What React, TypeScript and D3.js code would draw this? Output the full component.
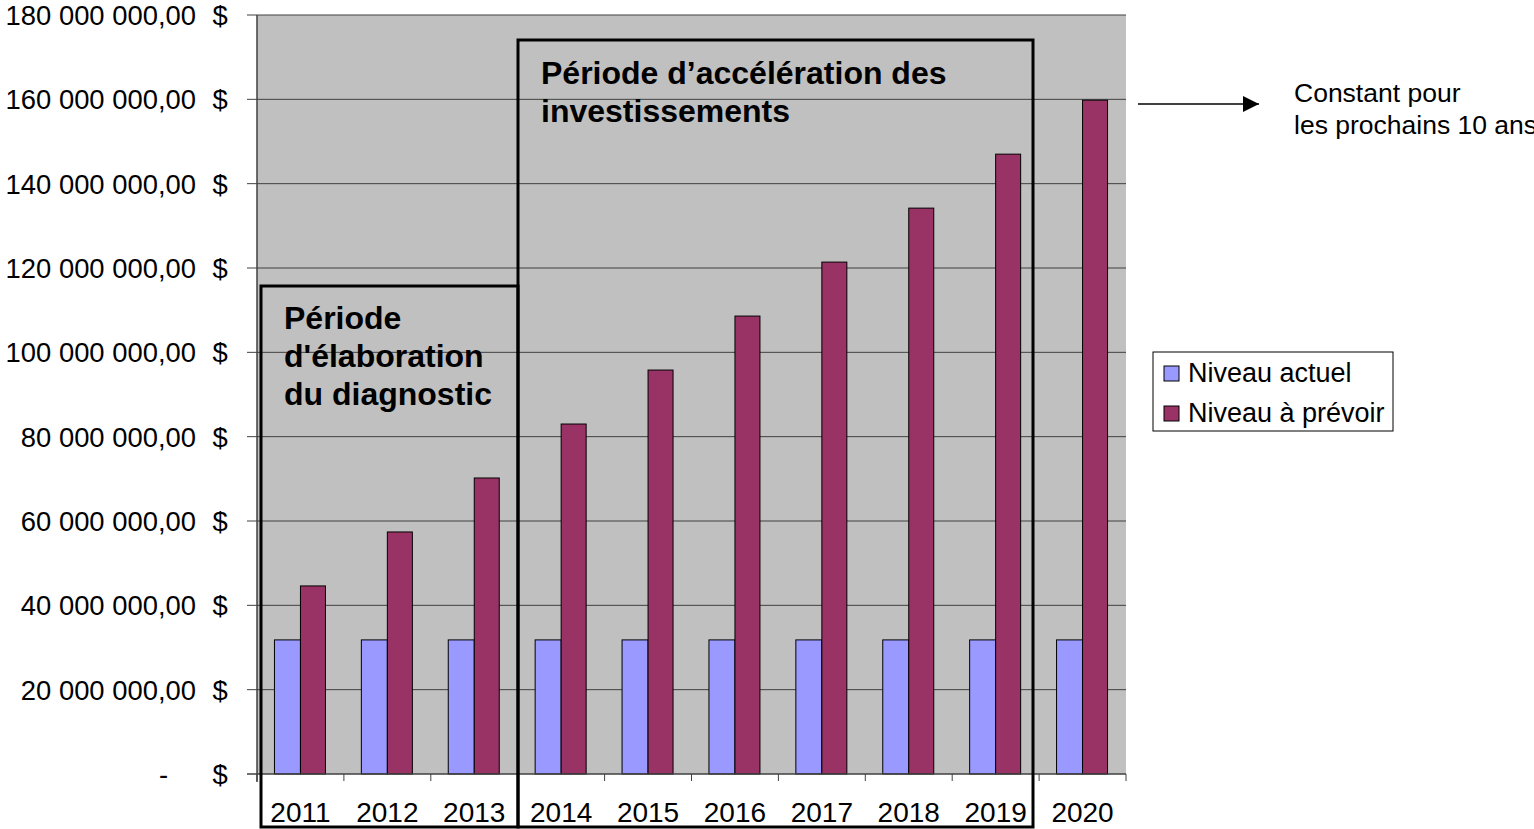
import React, { useEffect, useRef } from 'react';
import * as d3 from 'd3';

/* ─── Data ─── */
const YEARS = ['2011', '2012', '2013', '2014', '2015', '2016', '2017', '2018', '2019', '2020'];
const NIVEAU_ACTUEL = [31.8, 31.8, 31.8, 31.8, 31.8, 31.8, 31.8, 31.8, 31.8, 31.8].map(v => v * 1e6);
const NIVEAU_PREVOIR = [44.6, 57.4, 70.2, 83.0, 95.8, 108.6, 121.4, 134.2, 147.0, 159.8].map(v => v * 1e6);
const Y_TICKS = [0, 20e6, 40e6, 60e6, 80e6, 100e6, 120e6, 140e6, 160e6, 180e6];
const SERIES = ['Niveau actuel', 'Niveau à prévoir'];

const COLORS = {
    actuel: '#9999ff',
    prevoir: '#993366',
    plotBg: '#c0c0c0',
    grid: '#404040',
};
const FONT = "'Liberation Sans', Arial, sans-serif";

const W = 1534;
const H = 829;

function fmtTick(v: number) {
    if (v === 0) return '-';
    const s = d3.format(',.2f')(v);
    return s.replace(/,/g, ' ').replace('.', ',');
}

export default function App() {
    const svgRef = useRef<SVGSVGElement>(null);

    useEffect(() => {
        if (!svgRef.current) return;
        const svg = d3.select(svgRef.current);
        svg.selectAll('*').remove();

        const m = { left: 257, right: 1126, top: 15, bottom: 774 };
        const x = d3.scaleBand().domain(YEARS).range([m.left, m.right]).paddingInner(0).paddingOuter(0);
        const y = d3.scaleLinear().domain([0, 180e6]).range([m.bottom, m.top]);
        const bw = 26;

        // plot background
        svg.append('rect').attr('x', m.left).attr('y', m.top)
            .attr('width', m.right - m.left).attr('height', m.bottom - m.top).attr('fill', COLORS.plotBg);

        // grid + left ticks
        svg.append('g').selectAll('line').data(Y_TICKS.filter(d => d > 0)).join('line')
            .attr('x1', m.left - 10).attr('x2', m.right)
            .attr('y1', d => y(d)).attr('y2', d => y(d))
            .attr('stroke', COLORS.grid).attr('stroke-width', 1);

        // y labels
        const yl = svg.append('g').attr('font-family', FONT).attr('font-size', 27.4).attr('fill', '#000');
        yl.selectAll('text.num').data(Y_TICKS).join('text').attr('class', 'num')
            .attr('x', d => d === 0 ? 168 : 196).attr('y', d => y(d) + 10)
            .attr('text-anchor', 'end').text(d => fmtTick(d));
        yl.selectAll('text.cur').data(Y_TICKS).join('text').attr('class', 'cur')
            .attr('x', 220).attr('y', d => y(d) + 10)
            .attr('text-anchor', 'middle').text('$');

        // bars
        const g = svg.append('g');
        g.selectAll('rect.a').data(YEARS).join('rect').attr('class', 'a')
            .attr('x', d => x(d)! + x.bandwidth() / 2 - bw)
            .attr('y', (_, i) => y(NIVEAU_ACTUEL[i]))
            .attr('width', bw).attr('height', (_, i) => m.bottom - y(NIVEAU_ACTUEL[i]))
            .attr('fill', COLORS.actuel).attr('stroke', '#000').attr('stroke-width', 1);
        g.selectAll('rect.p').data(YEARS).join('rect').attr('class', 'p')
            .attr('x', d => x(d)! + x.bandwidth() / 2)
            .attr('y', (_, i) => y(NIVEAU_PREVOIR[i]))
            .attr('width', bw - 1).attr('height', (_, i) => m.bottom - y(NIVEAU_PREVOIR[i]))
            .attr('fill', COLORS.prevoir).attr('stroke', '#000').attr('stroke-width', 1);

        // axes lines
        svg.append('line').attr('x1', m.left).attr('x2', m.left).attr('y1', m.top).attr('y2', m.bottom + 8)
            .attr('stroke', COLORS.grid).attr('stroke-width', 1.5);
        svg.append('line').attr('x1', m.left - 10).attr('x2', m.right).attr('y1', m.bottom).attr('y2', m.bottom)
            .attr('stroke', COLORS.grid).attr('stroke-width', 1.5);
        const bounds = YEARS.map(d => x(d)!).concat([m.right]);
        svg.append('g').selectAll('line').data(bounds).join('line')
            .attr('x1', d => d).attr('x2', d => d).attr('y1', m.bottom).attr('y2', m.bottom + 7)
            .attr('stroke', COLORS.grid).attr('stroke-width', 1);

        // x labels
        svg.append('g').selectAll('text').data(YEARS).join('text')
            .attr('x', d => x(d)! + x.bandwidth() / 2).attr('y', 822)
            .attr('text-anchor', 'middle').attr('font-family', FONT).attr('font-size', 28).text(d => d);

        // period boxes
        const box = (x0: number, x1: number, y0: number) =>
            svg.append('rect').attr('x', x0).attr('y', y0).attr('width', x1 - x0).attr('height', 827 - y0)
                .attr('fill', 'none').attr('stroke', '#000').attr('stroke-width', 3);
        box(261, 518, 286);
        box(518, 1033, 40);

        const bold = (lines: string[], x0: number, y0: number) => {
            const t = svg.append('text').attr('font-family', FONT).attr('font-size', 32)
                .attr('font-weight', 700).attr('fill', '#000');
            lines.forEach((l, i) => t.append('tspan').attr('x', x0).attr('y', y0 + i * 38).text(l));
        };
        bold(['Période', "d'élaboration", 'du diagnostic'], 284, 329);
        bold(['Période d\u2019accélération des', 'investissements'], 541, 84);

        // arrow + note
        svg.append('defs').append('marker').attr('id', 'arr').attr('viewBox', '0 0 10 10')
            .attr('refX', 10).attr('refY', 5).attr('markerWidth', 18).attr('markerHeight', 16)
            .attr('markerUnits', 'userSpaceOnUse').attr('orient', 'auto')
            .append('path').attr('d', 'M0,0 L10,5 L0,10 Z').attr('fill', '#000');
        svg.append('line').attr('x1', 1138).attr('x2', 1259).attr('y1', 104).attr('y2', 104)
            .attr('stroke', '#000').attr('stroke-width', 1.5).attr('marker-end', 'url(#arr)');
        const note = svg.append('text').attr('font-family', FONT).attr('font-size', 26.5).attr('fill', '#000');
        note.append('tspan').attr('x', 1294).attr('y', 102).text('Constant pour');
        note.append('tspan').attr('x', 1294).attr('y', 134).text('les prochains 10 ans');

        // legend
        const lg = svg.append('g').attr('transform', 'translate(1153,352)');
        lg.append('rect').attr('width', 240).attr('height', 79).attr('fill', '#fff')
            .attr('stroke', '#000').attr('stroke-width', 1);
        SERIES.forEach((s, i) => {
            lg.append('rect').attr('x', 11).attr('y', 14 + i * 40).attr('width', 15).attr('height', 15)
                .attr('fill', i === 0 ? COLORS.actuel : COLORS.prevoir).attr('stroke', '#000').attr('stroke-width', 1);
            lg.append('text').attr('x', 35).attr('y', 30 + i * 40).attr('font-family', FONT)
                .attr('font-size', 27).text(s);
        });
    }, []);

    return (
        <div style={{ position: 'absolute', left: 0, top: 0, background: '#fff' }}>
            <svg ref={svgRef} width={W} height={H} style={{ display: 'block' }} />
        </div>
    );
}
